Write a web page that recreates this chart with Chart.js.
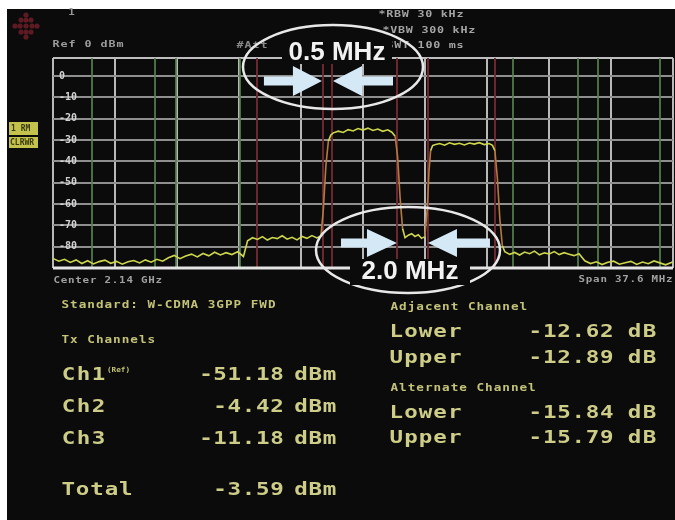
<!DOCTYPE html>
<html><head><meta charset="utf-8">
<script src="https://cdn.jsdelivr.net/npm/chart.js@4.4.1/dist/chart.umd.min.js"></script>
<style>html,body{margin:0;padding:0;background:#fff;}canvas{display:block}</style>
</head><body>
<canvas id="c" width="675" height="520"></canvas>
<script>
// ---- data (frequency offset from 2.14 GHz centre, MHz; level dBm) ----
const freqMHz = [
  -18.8,-18.45,-18.1,-17.75,-17.4,-17.05,-16.7,-16.35,-16.0,-15.65,-15.3,-14.95,-14.6,-14.25,-13.9,-13.55,-13.2,-12.85,-12.5,-12.15,
  -11.8,-11.45,-11.1,-10.75,-10.4,-10.05,-9.7,-9.35,-9.0,-8.65,-8.3,-7.95,-7.6,-7.25,
  -7.0,-6.7,-6.4,-6.1,-5.8,-5.5,-5.2,-4.9,-4.6,-4.3,-4.0,-3.7,-3.4,-3.1,-2.8,-2.55,
  -2.4,-2.25,-2.1,-1.95,
  -1.8,-1.5,-1.2,-0.9,-0.6,-0.3,0,0.3,0.6,0.9,1.2,1.5,1.75,
  1.95,2.1,2.25,2.4,
  2.55,2.75,2.95,3.15,3.35,3.55,3.75,
  3.9,4.0,4.1,4.22,
  4.35,4.65,4.95,5.25,5.55,5.85,6.15,6.45,6.75,7.05,7.35,7.65,7.85,
  8.0,8.15,8.3,8.45,
  8.6,8.9,9.2,9.5,9.8,10.1,10.4,10.7,11.0,11.3,11.6,11.9,12.2,12.5,12.8,13.1,
  13.45,13.8,14.15,14.5,14.85,15.2,15.55,15.9,16.25,16.6,16.95,17.3,17.65,18.0,18.35,18.7,18.8
];
const levelDbm = [
  -85.5,-86.8,-85.9,-87.4,-86.2,-87.9,-86.6,-88.1,-87.0,-86.3,-87.8,-86.9,-88.2,-87.1,-86.5,-87.6,-86.2,-87.3,-85.9,-86.8,
  -85.2,-84.1,-85.6,-84.4,-83.5,-84.8,-83.2,-84.3,-82.6,-83.9,-82.8,-83.7,-82.4,-84.6,
  -77.2,-75.8,-76.6,-75.3,-76.9,-75.7,-76.2,-74.9,-76.5,-75.6,-76.8,-75.2,-76.1,-74.8,-75.9,-75.0,
  -62,-42,-30.5,-27.6,
  -26.6,-25.8,-26.4,-25.1,-25.7,-24.6,-25.3,-24.4,-25.5,-24.8,-25.9,-25.2,-26.3,
  -28.2,-38,-57,-71.5,
  -75.8,-74.6,-73.9,-75.2,-74.4,-76.1,-75.3,
  -62,-45,-35,-32.6,
  -32.2,-31.6,-32.4,-31.3,-32.0,-31.5,-32.3,-31.4,-31.9,-31.2,-32.1,-31.6,-32.5,
  -35,-48,-67,-79.5,
  -82.4,-83.6,-82.7,-83.9,-82.5,-83.3,-82.1,-83.8,-82.9,-83.4,-82.3,-83.7,-82.8,-83.5,-84.2,-83.3,
  -86.6,-87.9,-87.1,-88.4,-87.3,-86.8,-88.2,-87.5,-86.9,-88.3,-87.2,-88.0,-86.7,-87.6,-88.5,-87.4,-87.0
];
const xGridMHz = [-18.8,-15.04,-11.28,-7.52,-3.76,0,3.76,7.52,11.28,15.04,18.8];
const yGridDb = [8.5,0,-10,-20,-30,-40,-50,-60,-70,-80,-90];
const yTickLabels = ['','0','-10','-20','-30','-40','-50','-60','-70','-80',''];
const txChannelEdges = [-6.43,-2.43,-1.88,2.06,3.94,8.0];
const acpChannelEdges = [-16.43,-12.61,-11.34,-7.46,9.1,13.04,14.25,18.01];
const txNames = ['Ch1','Ch2','Ch3'];
const txPower = ['-51.18','-4.42','-11.18'];
const totalPower = '-3.59';
const sideNames = ['Lower','Upper'];
const adjacentDb = ['-12.62','-12.89'];
const alternateDb = ['-15.84','-15.79'];
const headerLines = ['*RBW 30 kHz','*VBW 300 kHz','SWT 100 ms'];

// ---- helpers ----
function mono(ctx, text, x, y, pitch, font, sx, color, align) {
  ctx.save();
  ctx.font = font; ctx.fillStyle = color; ctx.textAlign = 'center'; ctx.textBaseline = 'middle';
  const start = align === 'right' ? x - text.length * pitch : x;
  for (let i = 0; i < text.length; i++) {
    const ch = text[i]; if (ch === ' ') continue;
    ctx.save(); ctx.translate(start + i * pitch + pitch / 2, y); ctx.scale(sx, 1);
    ctx.fillText(ch, 0, 0); ctx.restore();
  }
  ctx.restore();
}
function arrow(ctx, tipX, y, dir, headLen, headHalf, shaftLen, shaftHalf, color) {
  const b = tipX - dir * headLen, e = b - dir * shaftLen;
  ctx.save(); ctx.fillStyle = color; ctx.beginPath();
  ctx.moveTo(tipX, y); ctx.lineTo(b, y - headHalf); ctx.lineTo(b, y - shaftHalf);
  ctx.lineTo(e, y - shaftHalf); ctx.lineTo(e, y + shaftHalf); ctx.lineTo(b, y + shaftHalf);
  ctx.lineTo(b, y + headHalf); ctx.closePath(); ctx.fill(); ctx.restore();
}
function label(ctx, text, cx, cy, box) {
  ctx.save();
  ctx.fillStyle = '#0b0b0c'; ctx.fillRect(box[0], box[1], box[2], box[3]);
  ctx.font = "bold 26px 'Liberation Sans', Arial, sans-serif";
  ctx.fillStyle = '#f2f2f2'; ctx.textAlign = 'center'; ctx.textBaseline = 'middle';
  ctx.fillText(text, cx, cy); ctx.restore();
}

const bgPlugin = {
  id: 'bg',
  beforeDraw(chart) {
    const ctx = chart.ctx;
    ctx.save();
    ctx.fillStyle = '#ffffff'; ctx.fillRect(0, 0, 675, 520);
    ctx.fillStyle = '#0b0b0c'; ctx.fillRect(7, 9, 668, 511);
    ctx.restore();
  },
  beforeDatasetsDraw(chart) {
    const ctx = chart.ctx, a = chart.chartArea, xs = chart.scales.x;
    ctx.save(); ctx.lineWidth = 2;
    ctx.strokeStyle = 'rgba(84,128,76,0.85)';
    acpChannelEdges.forEach(f => { const p = Math.round(xs.getPixelForValue(f)); ctx.beginPath(); ctx.moveTo(p, a.top); ctx.lineTo(p, a.bottom); ctx.stroke(); });
    ctx.strokeStyle = 'rgba(112,42,48,0.95)';
    txChannelEdges.forEach(f => { const p = Math.round(xs.getPixelForValue(f)); ctx.beginPath(); ctx.moveTo(p, a.top); ctx.lineTo(p, a.bottom); ctx.stroke(); });
    ctx.restore();
  },
  afterDraw(chart) {
    const ctx = chart.ctx, a = chart.chartArea, xs = chart.scales.x;
    // bright baseline
    ctx.save(); ctx.strokeStyle = '#e4e4e4'; ctx.lineWidth = 3;
    ctx.beginPath(); ctx.moveTo(a.left, a.bottom); ctx.lineTo(a.right, a.bottom); ctx.stroke(); ctx.restore();

    // logo
    ctx.save(); ctx.fillStyle = '#5e1a22';
    const pts = [[0,-11],[-5,-6],[0,-6],[5,-6],[-11,0],[-6,0],[0,0],[6,0],[11,0],[-5,6],[0,6],[5,6],[0,11]];
    pts.forEach(p => { ctx.beginPath(); ctx.arc(26 + p[0], 26 + p[1], 2.6, 0, Math.PI * 2); ctx.fill(); });
    ctx.restore();
    // side icons
    ctx.save(); ctx.fillStyle = '#c2c24c'; ctx.fillRect(9, 122, 29, 13); ctx.fillRect(9, 137, 29, 11);
    ctx.fillStyle = '#3a3a10'; ctx.font = "bold 8px 'DejaVu Sans Mono'"; ctx.textBaseline = 'middle';
    ctx.fillText('1 RM', 11, 128.5); ctx.fillText('CLRWR', 10, 142.5); ctx.restore();

    // header
    mono(ctx, '1', 68, 13, 7, "bold 9px 'DejaVu Sans Mono'", 1.2, '#9a9a9a');
    mono(ctx, 'Ref 0 dBm', 52, 45, 8, "bold 9px 'DejaVu Sans Mono'", 1.3, '#9c9c9c');
    mono(ctx, '#Att', 236, 46, 8, "bold 9px 'DejaVu Sans Mono'", 1.3, '#8a8a8a');
    headerLines.forEach((t, i) => mono(ctx, t, 378 + i * 4, 15 + i * 15.5, 7.8, "bold 9px 'DejaVu Sans Mono'", 1.3, '#a4a4a4'));
    mono(ctx, 'Center 2.14 GHz', 53, 281, 7.3, "bold 9px 'DejaVu Sans Mono'", 1.2, '#a0a0a0');
    mono(ctx, 'Span 37.6 MHz', 673, 280, 7.3, "bold 9px 'DejaVu Sans Mono'", 1.2, '#a0a0a0', 'right');

    // annotations: top ellipse (0.5 MHz) between Ch1 and Ch2
    const c1 = xs.getPixelForValue(txChannelEdges[1]), c2 = xs.getPixelForValue(txChannelEdges[2]);
    ctx.save(); ctx.strokeStyle = '#e8e8e8'; ctx.lineWidth = 2.5;
    ctx.beginPath(); ctx.ellipse(333, 67, 90, 42, 0, 0, Math.PI * 2); ctx.stroke(); ctx.restore();
    label(ctx, '0.5 MHz', 337, 53, [282, 40, 110, 24]);
    arrow(ctx, c1 - 1, 81, 1, 29, 15, 29, 4.5, '#d4e8f6');
    arrow(ctx, c2 + 1, 81, -1, 29, 15, 31, 4.5, '#d4e8f6');
    // bottom ellipse (2.0 MHz) between Ch2 and Ch3
    const c3 = xs.getPixelForValue(txChannelEdges[3]), c4 = xs.getPixelForValue(txChannelEdges[4]);
    ctx.save(); ctx.strokeStyle = '#e8e8e8'; ctx.lineWidth = 2.5;
    ctx.beginPath(); ctx.ellipse(408, 250, 92, 43, 0, 0, Math.PI * 2); ctx.stroke(); ctx.restore();
    label(ctx, '2.0 MHz', 410, 272, [350, 259, 120, 26]);
    arrow(ctx, c3, 243, 1, 30, 14, 26, 4.5, '#d4e8f6');
    arrow(ctx, c4, 243, -1, 29, 14, 33, 4.5, '#d4e8f6');

    // measurement table
    const small = "bold 11px 'DejaVu Sans Mono'", big = "bold 18px 'DejaVu Sans Mono'";
    const yel = '#cdcd88', yel2 = '#c2c278';
    mono(ctx, 'Standard: W-CDMA 3GPP FWD', 61, 305, 8.6, small, 1.15, yel2);
    mono(ctx, 'Tx Channels', 61, 340, 8.6, small, 1.15, yel2);
    const rowsY = [375, 407, 439];
    txNames.forEach((n, i) => {
      mono(ctx, n, 61, rowsY[i], 15, big, 1.25, yel);
      mono(ctx, txPower[i], 284, rowsY[i], 14.2, big, 1.25, yel, 'right');
      mono(ctx, 'dBm', 294, rowsY[i], 14.2, big, 1.25, yel);
    });
    mono(ctx, '(Ref)', 107, 370, 4.6, "bold 7px 'DejaVu Sans Mono'", 1.1, yel2);
    mono(ctx, 'Total', 61, 490, 14.4, big, 1.25, yel);
    mono(ctx, totalPower, 284, 490, 14.2, big, 1.25, yel, 'right');
    mono(ctx, 'dBm', 294, 490, 14.2, big, 1.25, yel);

    mono(ctx, 'Adjacent Channel', 390, 307, 8.6, small, 1.15, yel2);
    mono(ctx, 'Alternate Channel', 390, 388, 8.6, small, 1.15, yel2);
    const rY1 = [332, 358], rY2 = [413, 438];
    sideNames.forEach((n, i) => {
      mono(ctx, n, 389, rY1[i], 14.6, big, 1.25, yel);
      mono(ctx, adjacentDb[i], 614, rY1[i], 14.3, big, 1.25, yel, 'right');
      mono(ctx, 'dB', 627, rY1[i], 15, big, 1.25, yel);
      mono(ctx, n, 389, rY2[i], 14.6, big, 1.25, yel);
      mono(ctx, alternateDb[i], 614, rY2[i], 14.3, big, 1.25, yel, 'right');
      mono(ctx, 'dB', 627, rY2[i], 15, big, 1.25, yel);
    });
  }
};

new Chart(document.getElementById('c'), {
  type: 'line',
  data: {
    datasets: [{
      data: freqMHz.map((f, i) => ({ x: f, y: levelDbm[i] })),
      borderColor: '#cdd64c',
      borderWidth: 1.6,
      pointRadius: 0,
      tension: 0,
      segment: {
        borderColor: c => Math.abs(c.p1.parsed.y - c.p0.parsed.y) > 9 ? '#b57a3e' : '#cdd64c'
      }
    }]
  },
  options: {
    responsive: false,
    animation: false,
    events: [],
    layout: { padding: { left: 53, top: 58, right: 2, bottom: 252 } },
    plugins: { legend: { display: false }, tooltip: { enabled: false } },
    scales: {
      x: {
        type: 'linear', min: -18.8, max: 18.8,
        afterBuildTicks: s => { s.ticks = xGridMHz.map(v => ({ value: v })); },
        afterFit: s => { s.height = 0; },
        ticks: { display: false },
        border: { display: false },
        grid: { color: '#b9b9b9', lineWidth: 2, drawTicks: false }
      },
      y: {
        type: 'linear', min: -90, max: 8.5,
        afterBuildTicks: s => { s.ticks = yGridDb.map(v => ({ value: v })); },
        afterFit: s => { s.width = 0; },
        border: { display: false },
        grid: { color: c => (c.tick && c.tick.value === 8.5) ? '#bdbdbd' : '#8f8f8f', lineWidth: 2, drawTicks: false },
        ticks: {
          mirror: true, padding: 6, color: '#d2d2d2',
          font: { family: "'DejaVu Sans Mono'", size: 10, weight: 'bold' },
          callback: (v, i) => yTickLabels[i]
        }
      }
    }
  },
  plugins: [bgPlugin]
});
</script>
</body></html>
